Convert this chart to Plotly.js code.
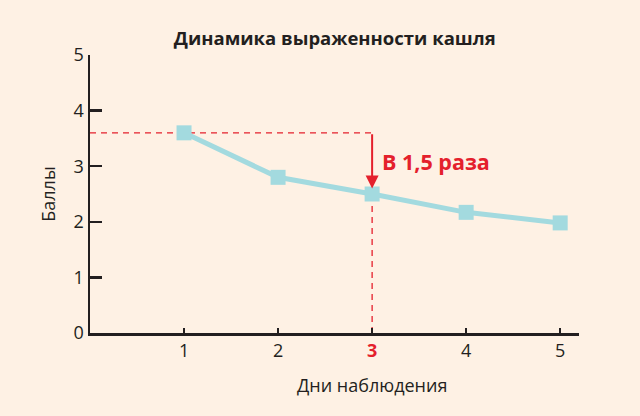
<!DOCTYPE html>
<html><head><meta charset="utf-8">
<script src="https://cdn.plot.ly/plotly-3.0.1.min.js"></script>
<style>body{margin:0;background:#fef1e4;}#c{width:640px;height:416px;}</style>
</head><body><div id="c"></div>
<script>
const days = [1, 2, 3, 4, 5];
const scores = [3.6, 2.8, 2.5, 2.17, 1.98];
const xTickVals = [1, 2, 3, 4, 5];
const xTickText = ['1', '2', '<b><span style="color:#e4202c">3</span></b>', '4', '5'];
const yTickVals = [0, 1, 2, 3, 4, 5];
const highlightIdx = 2;
const labelText = 'В 1,5 раза';
const xTitle = 'Дни наблюдения';

const red = '#e4202c';
const startY = scores[0];
const hx = days[highlightIdx];
const hy = scores[highlightIdx];

const trace = {
  x: days, y: scores, type: 'scatter', mode: 'lines+markers',
  line: {color: '#a3dadf', width: 5},
  marker: {symbol: 'square', size: 15, color: '#a3dadf'},
  hoverinfo: 'skip', cliponaxis: false
};

const layout = {
  width: 640, height: 416,
  paper_bgcolor: '#fef1e4', plot_bgcolor: '#fef1e4',
  margin: {l: 90, r: 61, t: 55, b: 83},
  font: {family: 'Open Sans, sans-serif', color: '#231f20', size: 18},
  showlegend: false,
  title: {text: '<b>Динамика выраженности кашля</b>', x: 0.523, xanchor: 'center', y: 0.908, yanchor: 'middle', font: {size: 18.5, color: '#231f20'}},
  xaxis: {
    range: [0, 5.2], tickvals: xTickVals, ticktext: xTickText,
    showgrid: false, zeroline: false, showline: true, linecolor: '#231f20', linewidth: 2.5,
    ticks: 'inside', ticklen: 5, tickwidth: 2, tickcolor: '#231f20',
    tickfont: {size: 18}
  },
  yaxis: {
    range: [0, 5], tickvals: yTickVals,
    showgrid: false, zeroline: false, showline: true, linecolor: '#231f20', linewidth: 2.5,
    ticks: 'inside', ticklen: 12, tickwidth: 2.5, tickcolor: '#231f20',
    tickfont: {size: 18}, title: {text: 'Баллы', font: {size: 18}, standoff: 14}
  },
  shapes: [
    {type: 'line', xref: 'x', yref: 'y', x0: 0, x1: hx, y0: startY, y1: startY, line: {color: red, width: 1.3, dash: '6px,5px'}, layer: 'below'},
    {type: 'line', xref: 'x', yref: 'y', x0: hx, x1: hx, y0: 0, y1: hy, line: {color: red, width: 1.3, dash: '6px,5px'}, layer: 'below'}
  ],
  annotations: [
    {x: hx, y: hy + 0.1, ax: hx, ay: startY, axref: 'x', ayref: 'y', xref: 'x', yref: 'y',
     text: '', showarrow: true, arrowhead: 2, arrowsize: 1.3, arrowwidth: 2, arrowcolor: red, standoff: 0},
    {x: hx + 0.08, y: (startY + hy) / 2 + 0.04, xref: 'x', yref: 'y', xanchor: 'left', yanchor: 'middle',
     text: '<b>' + labelText + '</b>', showarrow: false, font: {size: 21.5, color: red}},
    {x: hx, y: 0, xref: 'x', yref: 'paper', yshift: -52, xanchor: 'center', yanchor: 'middle',
     text: xTitle, showarrow: false, font: {size: 18, color: '#231f20'}}
  ]
};

Plotly.newPlot('c', [trace], layout, {displayModeBar: false, staticPlot: true});
</script>
</body></html>
